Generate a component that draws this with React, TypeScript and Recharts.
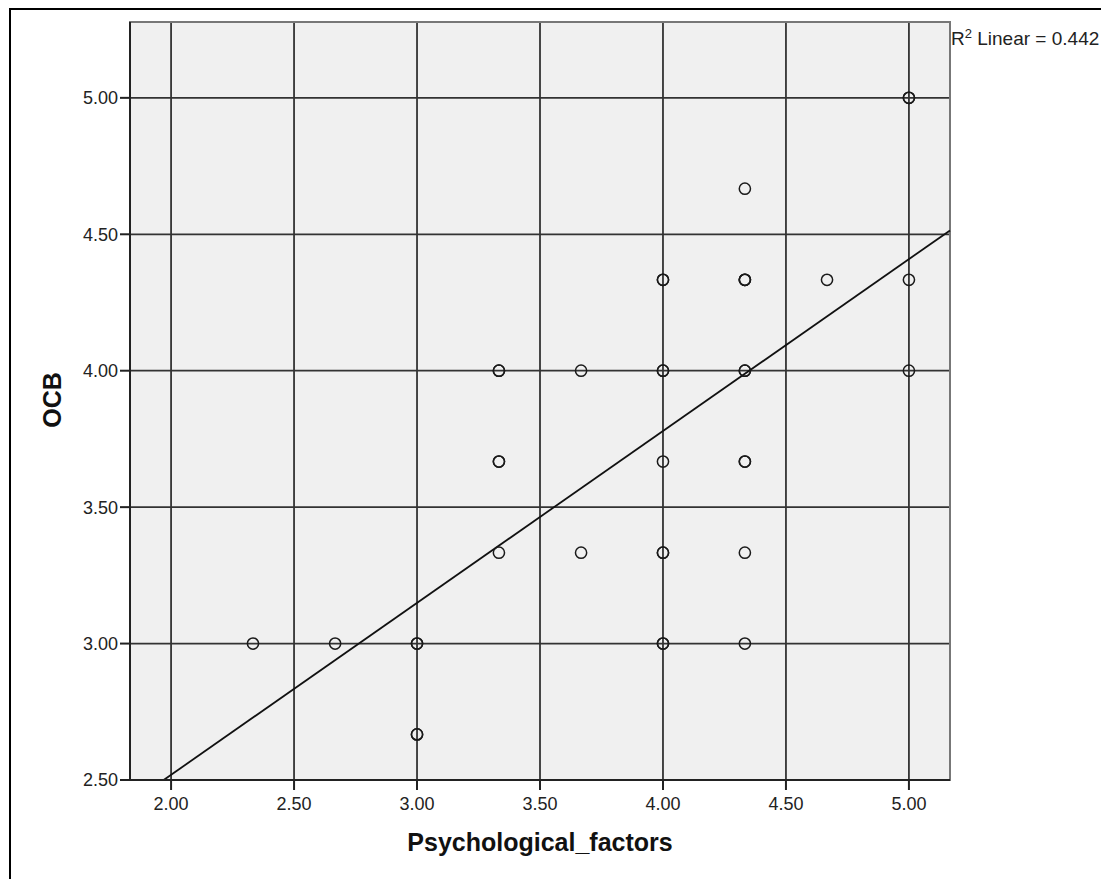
import React from "react";
import { CartesianGrid, ReferenceArea, ReferenceLine, Scatter, ScatterChart, XAxis, YAxis } from "recharts";

// readings; repeated pairs are stacked cases (drawn darker)
const psychologicalFactors = [
  2.333, 2.667, 3.0, 3.0, 3.0, 3.0, 3.333, 3.333, 3.333, 3.333, 3.333, 3.667, 3.667,
  4.0, 4.0, 4.0, 4.0, 4.0, 4.0, 4.0, 4.0, 4.0, 4.333, 4.333, 4.333, 4.333, 4.333,
  4.333, 4.333, 4.333, 4.333, 4.333, 4.667, 5.0, 5.0, 5.0, 5.0,
];
const ocbScores = [
  3.0, 3.0, 3.0, 3.0, 2.667, 2.667, 3.333, 3.667, 3.667, 4.0, 4.0, 3.333, 4.0,
  3.0, 3.0, 3.333, 3.333, 3.667, 4.0, 4.0, 4.333, 4.333, 3.0, 3.333, 3.667, 3.667, 4.0,
  4.0, 4.333, 4.333, 4.667, 4.333, 4.333, 4.0, 4.333, 5.0, 5.0,
];

const xTicks = [2.0, 2.5, 3.0, 3.5, 4.0, 4.5, 5.0];
const yTicks = [2.5, 3.0, 3.5, 4.0, 4.5, 5.0];
const xDomain = [1.833, 5.167];
const yDomain = [2.5, 5.278];

const fitSlope = 0.63;
const fitIntercept = 1.259;
const rSquared = 0.442;

const points = psychologicalFactors.map((x, i) => ({ x, y: ocbScores[i] }));
const fitStartX = (yDomain[0] - fitIntercept) / fitSlope;
const fitSegment = [
  { x: fitStartX, y: yDomain[0] },
  { x: xDomain[1], y: fitIntercept + fitSlope * xDomain[1] },
];

const font = '"Liberation Sans", Arial, sans-serif';
const tickStyle = { fontSize: 18, fill: "#222", fontFamily: font };

function RingDot(props: any) {
  const { cx, cy } = props;
  if (cx == null || cy == null) return null;
  return <circle cx={cx} cy={cy} r={5.6} fill="none" stroke="#1a1a1a" strokeWidth={1.5} />;
}

export default function App() {
  return (
    <div style={{ position: "absolute", left: 0, top: 0, width: 1101, height: 879, background: "#fff" }}>
      <div
        style={{
          position: "absolute",
          left: 9,
          top: 8,
          width: 1092,
          height: 871,
          borderLeft: "2px solid #000",
          borderTop: "2px solid #000",
        }}
      />
      <ScatterChart
        width={1101}
        height={879}
        margin={{ top: 22, right: 151, bottom: 0, left: 0 }}
        style={{ fontFamily: font }}
      >
        <CartesianGrid fill="#f0f0f0" stroke="#333" strokeWidth={1.8} strokeOpacity={1} />
        <ReferenceArea
          x1={xDomain[0]}
          x2={xDomain[1]}
          y1={yDomain[0]}
          y2={yDomain[1]}
          fill="none"
          stroke="#777"
          strokeWidth={2}
          ifOverflow="visible"
        />
        <XAxis
          type="number"
          dataKey="x"
          domain={xDomain}
          ticks={xTicks}
          allowDataOverflow
          height={99}
          tickFormatter={(v: number) => v.toFixed(2)}
          tick={tickStyle}
          fontSize={18}
          tickSize={10}
          tickMargin={7}
          stroke="#222"
          strokeWidth={2}
        />
        <YAxis
          type="number"
          dataKey="y"
          domain={yDomain}
          ticks={yTicks}
          allowDataOverflow
          width={130}
          tickFormatter={(v: number) => v.toFixed(2)}
          tick={tickStyle}
          fontSize={18}
          tickSize={10}
          tickMargin={2}
          stroke="#222"
          strokeWidth={2}
        />
        <ReferenceLine segment={fitSegment} stroke="#111" strokeWidth={1.8} ifOverflow="visible" />
        <Scatter data={points} shape={<RingDot />} isAnimationActive={false} />
      </ScatterChart>
      <div
        style={{
          position: "absolute",
          left: 951,
          top: 29,
          fontFamily: font,
          fontSize: 19,
          lineHeight: 1,
          color: "#222",
          whiteSpace: "nowrap",
        }}
      >
        R<span style={{ fontSize: 13, position: "relative", top: -7 }}>2</span> Linear = {rSquared.toFixed(3)}
      </div>
      <div
        style={{
          position: "absolute",
          left: 540,
          top: 830,
          transform: "translateX(-50%)",
          fontFamily: font,
          fontSize: 25,
          fontWeight: "bold",
          lineHeight: 1,
          color: "#111",
          whiteSpace: "nowrap",
        }}
      >
        Psychological_factors
      </div>
      <div
        style={{
          position: "absolute",
          left: 52,
          top: 400,
          transform: "translate(-50%, -50%) rotate(-90deg)",
          fontFamily: font,
          fontSize: 25,
          fontWeight: "bold",
          lineHeight: 1,
          color: "#111",
          whiteSpace: "nowrap",
        }}
      >
        OCB
      </div>
    </div>
  );
}
